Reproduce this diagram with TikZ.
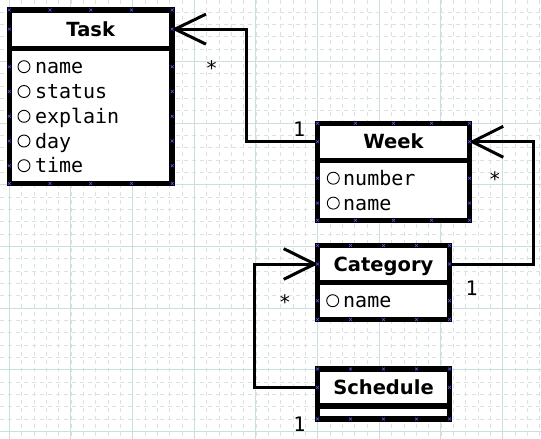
\documentclass[tikz,border=0pt]{standalone}
\usepackage{fontspec}
\setmainfont{DejaVu Sans}
\newfontfamily\monof{DejaVu Sans Mono}
\usetikzlibrary{calc}
\definecolor{gridmaj}{RGB}{202,224,222}
\definecolor{gridmin}{RGB}{216,226,224}
\definecolor{cpblue}{RGB}{90,90,255}
\newcommand\cpmark[2]{\draw[cpx] ({#1-1.4},{#2-1.4}) -- ({#1+1.4},{#2+1.4}) ({#1-1.4},{#2+1.4}) -- ({#1+1.4},{#2-1.4});}
\newcommand\cpbox[5]{%
  \foreach \f in {0,0.25,0.5,0.75,1} {\cpmark{#1+\f*(#2-#1)}{#3}\cpmark{#1+\f*(#2-#1)}{#4}}%
  \foreach \yy in {#5} {\cpmark{#1}{\yy}\cpmark{#2}{\yy}}%
}
\begin{document}
\begin{tikzpicture}[x=1pt,y=-1pt,
  gmin/.style={draw=gridmin, line width=0.8pt, dash pattern=on 4.3pt off 3.7pt},
  gmaj/.style={draw=gridmaj, line width=1pt},
  hdr/.style={draw=black, fill=white, line width=5.5pt, rectangle, inner sep=0pt, outer sep=2.75pt,
    font=\fontsize{19.5}{20}\selectfont\bfseries, text height=14.2pt, text depth=0pt},
  bodybox/.style={draw=black, fill=white, line width=5.5pt, rectangle, inner sep=0pt, outer sep=2.75pt},
  attrc/.style={circle, draw=black, fill=white, line width=0.9pt, minimum size=12pt, inner sep=0pt},
  attr/.style={anchor=base west, inner sep=0pt, outer sep=0pt, font=\monof\fontsize{20}{20}\selectfont},
  lbl/.style={anchor=base, inner sep=0pt, outer sep=0pt, font=\monof\fontsize{20}{20}\selectfont},
  conn/.style={draw=black, line width=3pt, line join=miter},
  barb/.style={draw=black, line width=3pt, line join=bevel},
  cpx/.style={draw=cpblue, line width=0.55pt}]
\useasboundingbox (0,0) rectangle (541,439);
\fill[white] (0,0) rectangle (541,439);
% grid
\foreach \i in {0,...,44} \draw[gmin] ({-3.03+12.333*\i},0) -- ++(0,439);
\foreach \i in {0,...,36} \draw[gmin] (0,{-0.3+12.333*\i}) -- ++(541,0);
\foreach \i in {0,...,8} \draw[gmaj] ({9.3+61.667*\i},0) -- ++(0,439);
\foreach \i in {1,...,7} \draw[gmaj] (0,{-0.3+61.667*\i}) -- ++(541,0);

% Task
\node[hdr, minimum width=162.9pt, minimum height=38.3pt] (taskh) at (90.75,29.15) {Task};
\node[bodybox, minimum width=162.9pt, minimum height=135.2pt] (taskb) at (90.75,115.9) {};
\foreach \yy/\t [count=\k] in {66.7/name,91.5/status,116.3/explain,141/day,165.7/time} {
  \node[attrc] (tc\k) at (24,\yy) {};
  \node[attr] (ta\k) at (35,{\yy+7}) {\t};
}
% Week
\node[hdr, minimum width=152pt, minimum height=37pt] (weekh) at (393.5,141.8) {Week};
\node[bodybox, minimum width=152pt, minimum height=60pt] (weekb) at (393.5,190.3) {};
\foreach \yy/\t [count=\k] in {178.2/number,203.1/name} {
  \node[attrc] (wc\k) at (333.3,\yy) {};
  \node[attr] (wa\k) at (343.2,{\yy+7}) {\t};
}
% Category
\node[hdr, minimum width=132pt, minimum height=37pt] (cath) at (383.5,264) {Category};
\node[bodybox, minimum width=132pt, minimum height=37pt] (catb) at (383.5,301) {};
\node[attrc] (cc1) at (332.7,300.7) {};
\node[attr] (ca1) at (343.2,307.7) {name};
% Schedule
\node[hdr, minimum width=132pt, minimum height=36.8pt] (schh) at (383.5,387.4) {Schedule};
\node[bodybox, minimum width=132pt, minimum height=13.2pt] (schb) at (383.5,412.4) {};

% connectors
\coordinate (c1) at (246,0);
\coordinate (c2) at (533.3,0);
\coordinate (c3) at (254.3,0);
\draw[conn] (weekh.west) -- (weekh.west -| c1) |- (taskh.east);
\draw[barb] ($(taskh.east)+(31,-15)$) -- (taskh.east) -- ($(taskh.east)+(31,15)$);
\draw[conn] (cath.east) -- (cath.east -| c2) |- (weekh.east);
\draw[barb] ($(weekh.east)+(31,-15.5)$) -- (weekh.east) -- ($(weekh.east)+(31,15.5)$);
\draw[conn] (schh.west) -- (schh.west -| c3) |- (cath.west);
\draw[barb] ($(cath.west)+(-31,-15.3)$) -- (cath.west) -- ($(cath.west)+(-31,15.3)$);

% labels
\node[lbl] (m1) at (211.7,75) {*};
\node[lbl] (o1) at (299.2,136) {1};
\node[lbl] (m2) at (495,186.3) {*};
\node[lbl] (o2) at (471.7,295) {1};
\node[lbl] (m3) at (285,309) {*};
\node[lbl] (o3) at (299.3,431.7) {1};

% connection points
\cpbox{9.3}{172.2}{10}{183.5}{29.15,66.7,91.5,116.3,141,165.7}
\cpbox{317.5}{469.5}{123.3}{220.3}{141.8,178.2,203.1}
\cpbox{317.5}{449.5}{245.5}{319.5}{264,300.7}
\cpbox{317.5}{449.5}{369}{419}{387.4}
\end{tikzpicture}
\end{document}
